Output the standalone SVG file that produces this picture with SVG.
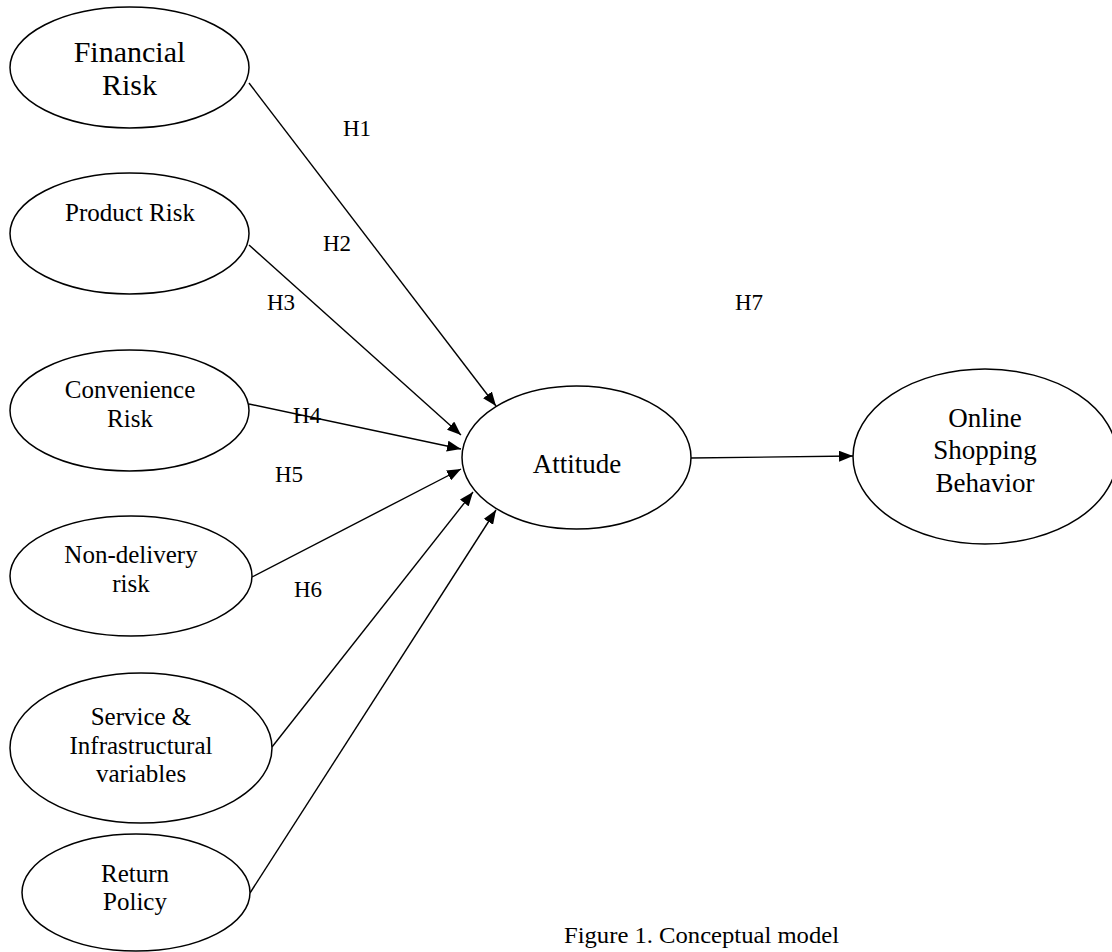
<svg xmlns="http://www.w3.org/2000/svg" width="1112" height="952" viewBox="0 0 1112 952">
<style>
.n{fill:#fff;stroke:#000;stroke-width:1.5}
.t{font-family:"Liberation Serif","Times New Roman",serif;fill:#000;text-anchor:middle}
.c{stroke:#000;stroke-width:1.4;fill:none;marker-end:url(#ah)}
.h{font-family:"Liberation Serif","Times New Roman",serif;fill:#000;font-size:23px}
</style>
<defs>
<marker id="ah" markerUnits="userSpaceOnUse" markerWidth="15" markerHeight="11" refX="14" refY="5.5" orient="auto">
<path d="M0,0 L14,5.5 L0,11 z" fill="#000"/>
</marker>
</defs>
<rect width="1112" height="952" fill="#fff"/>
<g id="connectors">
<line class="c" x1="249" y1="83" x2="496" y2="406"/>
<line class="c" x1="249" y1="245" x2="461" y2="435"/>
<line class="c" x1="249" y1="404" x2="461" y2="449"/>
<line class="c" x1="252" y1="577" x2="461" y2="469"/>
<line class="c" x1="272" y1="747" x2="473" y2="492"/>
<line class="c" x1="250" y1="893" x2="496" y2="510"/>
<line class="c" x1="691" y1="458" x2="853" y2="456"/>
</g>
<g id="labels">
<text class="h" x="343" y="136">H1</text>
<text class="h" x="323" y="251">H2</text>
<text class="h" x="267" y="310">H3</text>
<text class="h" x="293" y="423">H4</text>
<text class="h" x="275" y="482">H5</text>
<text class="h" x="294" y="597">H6</text>
<text class="h" x="735" y="310">H7</text>
</g>
<g id="financial-risk">
<ellipse class="n" cx="129.5" cy="67.5" rx="119.5" ry="60.5"/>
<text class="t" x="129.5" y="62" font-size="30">Financial</text>
<text class="t" x="129.5" y="95" font-size="30">Risk</text>
</g>
<g id="product-risk">
<ellipse class="n" cx="129.5" cy="233.5" rx="119.5" ry="60.5"/>
<text class="t" x="130" y="221" font-size="25">Product Risk</text>
</g>
<g id="convenience-risk">
<ellipse class="n" cx="129.5" cy="410.5" rx="119.5" ry="60.5"/>
<text class="t" x="130" y="398" font-size="25">Convenience</text>
<text class="t" x="130" y="427" font-size="25">Risk</text>
</g>
<g id="non-delivery-risk">
<ellipse class="n" cx="131" cy="576" rx="121" ry="60"/>
<text class="t" x="131" y="563" font-size="25">Non-delivery</text>
<text class="t" x="131" y="592" font-size="25">risk</text>
</g>
<g id="service-infrastructural">
<ellipse class="n" cx="141" cy="748" rx="131" ry="75"/>
<text class="t" x="141" y="725" font-size="25">Service &amp;</text>
<text class="t" x="141" y="754" font-size="25">Infrastructural</text>
<text class="t" x="141" y="782" font-size="25">variables</text>
</g>
<g id="return-policy">
<ellipse class="n" cx="136" cy="892.5" rx="114" ry="58.5"/>
<text class="t" x="135" y="882" font-size="25">Return</text>
<text class="t" x="135" y="910" font-size="25">Policy</text>
</g>
<g id="attitude">
<ellipse class="n" cx="576.5" cy="457.5" rx="114.5" ry="71.5"/>
<text class="t" x="577" y="473" font-size="27">Attitude</text>
</g>
<g id="online-shopping-behavior">
<ellipse class="n" cx="985" cy="456.5" rx="132" ry="87.5"/>
<text class="t" x="985" y="427" font-size="27">Online</text>
<text class="t" x="985" y="459" font-size="27">Shopping</text>
<text class="t" x="985" y="492" font-size="27">Behavior</text>
</g>
<g id="caption">
<text x="564" y="943" font-family="Liberation Serif, Times New Roman, serif" font-size="24" textLength="275" lengthAdjust="spacingAndGlyphs">Figure 1. Conceptual model</text>
</g>
</svg>
